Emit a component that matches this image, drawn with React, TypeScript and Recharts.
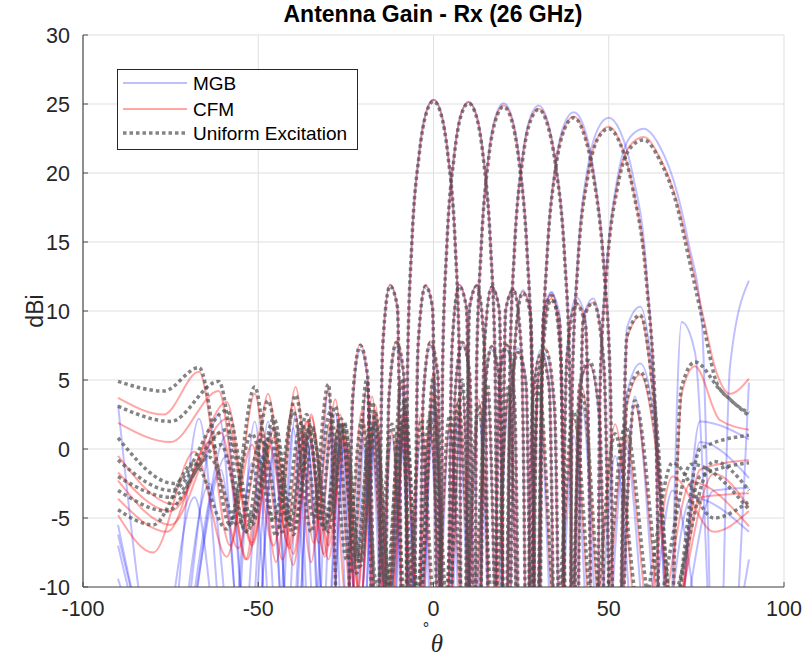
import React from 'react';
import { LineChart, Line, XAxis, YAxis, CartesianGrid } from 'recharts';

// angles (deg) and gains (dBi), one group per steering angle
// beam 0°
const th0 = [-90, -80, -68.2, -59, -51.8, -45.6, -40, -34.9, -30, -25.4, -23.1, -20.9, -18.8, -16.6, -14.5, -12.4, -10.3, -8.2, -7.4, -6.2, -4.1, -2.1, 0, 2.1, 4.1, 6.2, 7.4, 8.2, 10.3, 12.4, 14.5, 16.6, 18.8, 20.9, 23.1, 25.4, 30, 34.9, 40, 45.6, 51.8, 59, 68.2, 80, 90];
const uni0 = [-4.4, -5.5, -1.0, -5.8, 1.1, -5.2, 2.7, -6.0, 4.7, -30, 3.6, 7.5, 5.3, -30, 7.4, 11.8, 10.3, -30, 6.0, 14.8, 21.3, 24.3, 25.2, 24.3, 21.3, 14.8, 6.0, -30, 10.3, 11.8, 7.4, -30, 5.3, 7.5, 3.6, -30, 4.7, -12, 2.7, -12, 1.1, -12, -1.0, -5.0, -3.8];
const cfm0 = [-4.8, -7.5, -0.2, -7.8, 0.3, -7.0, 3.2, -8.2, 4.4, -30, 3.4, 7.6, 5.2, -30, 7.4, 11.9, 10.3, -30, 6.0, 14.8, 21.4, 24.4, 25.3, 24.4, 21.4, 14.8, 6.0, -30, 10.3, 11.9, 7.4, -30, 5.2, 7.6, 3.4, -30, 5.0, -14, 2.2, -14, 1.8, -14, -2.0, -6.0, -4.5];
const mgb0 = [-14, -18, -3.5, -18, -1.0, -18, 1.5, -18, 4.2, -30, 3.0, 7.2, 5.0, -30, 7.2, 11.9, 10.2, -30, 6.1, 14.9, 21.4, 24.4, 25.3, 24.4, 21.4, 14.9, 6.1, -30, 10.2, 11.9, 7.2, -30, 5.0, 7.2, 3.0, -30, 4.0, -18, 1.0, -18, -0.5, -18, -3.0, -18, -8];

// beam 10°
const th10 = [-90, -76, -63.9, -55.7, -49, -43.1, -37.7, -32.7, -28, -23.4, -19.05, -14.8, -12.7, -10.6, -8.5, -6.4, -4.4, -2.3, -0.3, 1.8, 2.6, 3.8, 5.9, 7.9, 10, 12.1, 14.2, 16.3, 17.6, 18.45, 20.6, 22.8, 25.1, 27.3, 29.7, 32.05, 34.5, 37, 42.35, 48.2, 54.7, 62.6, 73.6, 90];
const uni10 = [-3.0, -4.5, -0.6, -5.5, 0.7, -6.0, 1.9, -5.0, 3.1, -9, 5.0, -30, 3.8, 7.7, 5.5, -30, 7.5, 11.8, 10.3, -30, 5.9, 14.7, 21.2, 24.2, 25.05, 24.2, 21.1, 14.6, 5.7, -30, 10.1, 11.5, 7.1, -30, 5.0, 7.1, 3.2, -30, 4.1, -12, 1.7, -12, -1.1, -4.4];
const cfm10 = [-3.6, -6.0, 0.5, -7.2, 1.5, -8.0, 1.2, -6.8, 3.6, -11, 4.6, -30, 3.9, 7.8, 5.4, -30, 7.5, 11.9, 10.3, -30, 5.9, 14.7, 21.3, 24.3, 25.15, 24.3, 21.2, 14.6, 5.7, -30, 10.1, 11.6, 7.0, -30, 5.1, 7.3, 3.0, -30, 4.6, -14, 0.9, -14, -2.4, -5.6];
const mgb10 = [-12, -18, -2.5, -18, -0.5, -18, 1.0, -18, 2.6, -18, 4.6, -30, 3.5, 7.4, 5.2, -30, 7.3, 11.8, 10.2, -30, 6.0, 14.8, 21.3, 24.3, 25.15, 24.3, 21.3, 14.8, 6.0, -30, 10.0, 11.6, 7.0, -30, 4.6, 6.8, 2.8, -30, 3.2, -18, 0.3, -18, -3.5, -6.0];

// beam 20°
const th20 = [-90, -75, -60.7, -53.2, -46.8, -41.1, -35.9, -31, -26.3, -21.9, -17.5, -13.3, -9.1, -5, -2.9, -0.9, 1.2, 3.2, 5.3, 7.3, 9.4, 11.5, 12.3, 13.6, 15.7, 17.8, 20, 22.2, 24.4, 26.7, 28.1, 29, 31.4, 33.8, 36.3, 38.9, 41.6, 44.4, 47.3, 50.4, 57.4, 65.95, 80, 90];
const uni20 = [-2.0, -3.5, 0.3, -6.0, 0.8, -5.5, 1.4, -5.8, 2.2, -9, 3.4, -11, 5.1, -30, 3.9, 7.7, 5.5, -30, 7.5, 11.8, 10.2, -30, 5.8, 14.5, 21.0, 23.9, 24.8, 23.9, 20.8, 14.2, 5.4, -30, 9.7, 11.1, 6.7, -30, 4.4, 6.4, 2.5, -30, 3.5, -12, -0.9, -3.0];
const cfm20 = [-2.3, -5.5, 1.2, -8.0, 0.2, -7.2, 2.0, -7.8, 1.8, -11, 3.8, -13, 5.0, -30, 4.0, 7.8, 5.5, -30, 7.5, 11.9, 10.2, -30, 5.8, 14.6, 21.1, 24.0, 24.9, 24.0, 20.9, 14.3, 5.4, -30, 9.8, 11.2, 6.6, -30, 4.6, 6.1, 2.8, -30, 3.2, -14, -1.8, -4.2];
const mgb20 = [-9.4, -18, -1.5, -18, -1.0, -18, 0.3, -18, 1.5, -18, 2.8, -18, 4.6, -30, 3.6, 7.4, 5.3, -30, 7.4, 11.9, 10.3, -30, 6.0, 14.8, 21.3, 24.2, 25.05, 24.2, 21.2, 14.6, 5.6, -30, 9.9, 11.4, 6.8, -30, 4.0, 6.2, 2.0, -30, 3.8, -18, -3.0, -2.8];

// beam 30°
const th30 = [-90, -75, -59, -51.8, -45.6, -40, -34.85, -30, -25.4, -20.9, -16.6, -12.4, -8.2, -4.1, 0, 4.1, 6.15, 8.2, 10.3, 12.4, 14.5, 16.6, 18.75, 20.9, 21.8, 23.1, 25.4, 27.7, 30, 32.4, 34.85, 37.4, 38.9, 40, 42.7, 45.6, 48.6, 51.8, 55.2, 59, 63.2, 68.2, 76, 90];
const uni30 = [-0.8, -3.0, 1.4, -5.5, 1.5, -6.2, 1.5, -5.0, 1.9, -8.5, 2.6, -10, 3.6, -12, 5.3, -30, 4.0, 7.7, 5.5, -30, 7.4, 11.7, 10.1, -30, 5.7, 14.4, 20.9, 23.8, 24.6, 23.6, 20.5, 13.9, 5.1, -30, 9.3, 10.6, 6.1, -30, 3.6, 5.6, 1.3, -12, -2.0, -1.0];
const cfm30 = [-1.7, -4.5, 2.2, -7.0, 0.8, -8.4, 2.3, -7.0, 1.2, -11, 3.2, -13, 3.0, -14, 5.6, -30, 4.1, 7.8, 5.4, -30, 7.4, 11.8, 10.1, -30, 5.7, 14.5, 21.0, 23.9, 24.65, 23.7, 20.6, 14.0, 5.1, -30, 9.4, 10.6, 6.0, -30, 3.2, 5.4, 0.5, -14, -3.5, -3.2];
const mgb30 = [-7.0, -18, -0.5, -18, -0.5, -18, 0.5, -18, 0.8, -18, 2.0, -18, 3.0, -18, 5.0, -30, 3.8, 7.5, 5.4, -30, 7.3, 11.8, 10.2, -30, 5.9, 14.7, 21.2, 24.1, 24.9, 23.9, 20.8, 14.2, 5.3, -30, 9.5, 10.9, 6.3, -30, 4.0, 6.2, 1.5, -18, 0.5, -2.1];

// beam 40°
const th40 = [-90, -74, -59, -51.8, -45.6, -40, -34.85, -30, -25.4, -20.9, -16.6, -12.4, -8.2, -4.1, 0, 4.1, 8.2, 12.4, 14.5, 16.6, 18.75, 20.9, 23.1, 25.4, 27.7, 30, 30.95, 32.4, 34.85, 37.4, 40, 42.7, 45.6, 48.6, 50.5, 51.8, 55.2, 59, 63.2, 68.2, 76, 90];
const uni40 = [0.8, -2.5, 2.8, -5.0, 2.2, -5.8, 1.8, -6.0, 1.7, -8, 1.9, -10, 2.5, -12, 3.5, -12, 5.0, -30, 3.6, 7.4, 5.1, -30, 7.1, 11.3, 9.7, -30, 5.2, 13.9, 20.3, 23.2, 24.0, 23.0, 19.8, 13.1, 4.2, -30, 8.2, 9.7, 3.0, -12, 0.0, 1.0];
const cfm40 = [-0.5, -4.0, 3.4, -6.8, 1.4, -7.6, 2.5, -8.0, 1.0, -11, 2.6, -13, 1.8, -14, 4.0, -14, 4.6, -30, 3.7, 7.5, 5.1, -30, 7.1, 11.4, 9.8, -30, 5.2, 14.0, 20.4, 23.3, 24.1, 23.1, 19.9, 13.2, 4.3, -30, 8.0, 9.6, 2.5, -14, -1.5, -0.8];
const mgb40 = [-6.2, -18, 1.0, -18, 0.0, -18, 0.5, -18, 0.5, -18, 1.0, -18, 2.0, -18, 3.0, -18, 4.5, -30, 3.4, 7.2, 5.0, -30, 7.2, 11.5, 9.9, -30, 5.4, 14.2, 20.7, 23.6, 24.4, 23.5, 20.3, 13.6, 4.6, -30, 8.8, 10.3, 3.5, -18, 2.0, 0.7];

// beam 50°
const th50 = [-90, -75, -61.3, -53.6, -47.2, -41.5, -36.2, -31.3, -26.6, -22.1, -17.8, -13.5, -9.4, -5.2, -1.1, 3, 7.1, 11.2, 15.4, 19.7, 21.9, 24.1, 26.4, 28.7, 31.1, 33.5, 36, 38.5, 39.6, 41.2, 44, 46.9, 50, 53.3, 56.9, 60.8, 63.5, 65.4, 70.8, 74.6, 81.7, 90];
const uni50 = [3.1, 2.0, 4.9, -6.0, 3.5, -5.2, 2.5, -5.8, 1.9, -8, 1.7, -10, 1.8, -12, 2.4, -12, 3.3, -12, 4.7, -30, 3.3, 7.0, 4.7, -30, 6.6, 10.8, 9.2, -30, 4.6, 13.4, 19.7, 22.5, 23.2, 22.1, 18.8, 12.0, 1.0, -30, 4.5, 6.3, 4.3, 2.4];
const cfm50 = [1.9, 0.5, 4.2, -8.0, 4.0, -7.0, 2.0, -7.6, 2.5, -11, 1.2, -13, 2.3, -14, 2.0, -14, 3.7, -14, 4.4, -30, 3.3, 7.0, 4.6, -30, 6.7, 10.9, 9.3, -30, 4.6, 13.5, 19.8, 22.6, 23.35, 22.2, 18.9, 12.1, 1.0, -30, 4.0, 6.0, 2.1, 1.4];
const mgb50 = [-5.5, -18, 2.5, -18, 2.0, -18, 1.0, -18, 0.5, -18, 0.5, -18, 1.0, -18, 1.5, -18, 2.5, -18, 4.0, -30, 3.4, 7.3, 5.0, -30, 7.0, 11.3, 9.7, -30, 5.0, 14.0, 20.4, 23.2, 24.0, 23.0, 19.8, 12.8, 0.0, -30, 9.2, 7.0, -25, 4.8];

// beam 60°
const th60 = [-90, -77, -66.9, -58, -51, -44.9, -39.35, -34.2, -29.4, -24.8, -20.4, -16.1, -11.85, -7.7, -3.6, 0.5, 4.6, 8.7, 12.9, 17.1, 21.5, 25.9, 28.2, 30.6, 33, 35.5, 38, 40.7, 43.4, 46.3, 47.5, 49.4, 52.6, 56.1, 60, 64.4, 69.6, 72.7, 76.6, 80.8, 84.6, 90];
const uni60 = [4.9, 4.2, 5.9, -5.5, 4.5, -6.3, 3.9, -5.0, 2.7, -8, 2.1, -10, 1.8, -12, 1.9, -12, 2.4, -12, 3.2, -12, 4.6, -30, 3.1, 6.8, 4.5, -30, 6.3, 10.5, 8.9, -30, 4.1, 12.8, 19.1, 21.8, 22.4, 21.0, 17.5, 14.0, 9.5, 4.8, 3.6, 2.6];
const cfm60 = [3.7, 2.5, 5.6, -7.0, 4.0, -8.2, 4.5, -6.8, 2.0, -11, 2.8, -13, 1.2, -14, 2.5, -14, 1.8, -14, 3.6, -14, 4.3, -30, 3.1, 6.9, 4.5, -30, 6.4, 10.6, 9.0, -30, 4.2, 12.9, 19.3, 22.0, 22.6, 21.2, 17.8, 14.5, 10.0, 5.5, 4.0, 5.1];
const mgb60 = [3.2, -18, 2.2, -18, 2.0, -18, 2.5, -18, 1.5, -18, 1.0, -18, 0.8, -18, 1.0, -18, 1.5, -18, 2.5, -18, 4.0, -30, 3.3, 7.2, 4.8, -30, 6.8, 11.0, 9.4, -30, 4.6, 13.3, 19.8, 22.6, 23.2, 22.0, 18.5, 15.0, 9.0, -25, 6.0, 12.2];

const xTicks = [-100, -50, 0, 50, 100];
const yTicks = [-10, -5, 0, 5, 10, 15, 20, 25, 30];

const beams = [
  { key: 'b0', th: th0, uni: uni0, cfm: cfm0, mgb: mgb0 },
  { key: 'b10', th: th10, uni: uni10, cfm: cfm10, mgb: mgb10 },
  { key: 'b20', th: th20, uni: uni20, cfm: cfm20, mgb: mgb20 },
  { key: 'b30', th: th30, uni: uni30, cfm: cfm30, mgb: mgb30 },
  { key: 'b40', th: th40, uni: uni40, cfm: cfm40, mgb: mgb40 },
  { key: 'b50', th: th50, uni: uni50, cfm: cfm50, mgb: mgb50 },
  { key: 'b60', th: th60, uni: uni60, cfm: cfm60, mgb: mgb60 },
];

const pts = (th: number[], v: number[]) => th.map((t, i) => ({ t, v: v[i] }));

const FONT = '"Liberation Sans", Arial, Helvetica, sans-serif';
const INK = '#262626';

const MGB_STYLE = { stroke: '#0000ff', strokeOpacity: 0.25, strokeWidth: 2 };
const CFM_STYLE = { stroke: '#ff0000', strokeOpacity: 0.35, strokeWidth: 2 };
const UNI_STYLE = { stroke: '#505050', strokeOpacity: 0.7, strokeWidth: 3.5, strokeDasharray: '3.5 3' };

const App: React.FC = () => {
  return (
    <div style={{ position: 'absolute', left: 0, top: 0, width: 805, height: 660, background: '#fff', fontFamily: FONT }}>
      <LineChart width={805} height={660} margin={{ top: 35, right: 21, bottom: 0, left: 0 }}>
        <CartesianGrid stroke="#dfdfdf" strokeWidth={1} />
        <XAxis
          type="number"
          dataKey="t"
          domain={[-100, 100]}
          ticks={xTicks}
          height={73}
          tickSize={-5}
          tickMargin={19}
          axisLine={{ stroke: '#4d4d4d', strokeWidth: 1.2 }}
          tickLine={{ stroke: '#4d4d4d' }}
          tick={{ fill: INK, fontSize: 21.5, fontFamily: FONT }}
          allowDataOverflow
        />
        <YAxis
          type="number"
          domain={[-10, 30]}
          ticks={yTicks}
          width={83}
          tickSize={-5}
          tickMargin={18}
          axisLine={{ stroke: '#4d4d4d', strokeWidth: 1.2 }}
          tickLine={{ stroke: '#4d4d4d' }}
          tick={{ fill: INK, fontSize: 21.5, fontFamily: FONT }}
          allowDataOverflow
        />
        {beams.map((b) => (
          <Line key={'mgb' + b.key} data={pts(b.th, b.mgb)} dataKey="v" type="monotone" {...MGB_STYLE}
            dot={false} activeDot={false} isAnimationActive={false} />
        ))}
        {beams.map((b) => (
          <Line key={'cfm' + b.key} data={pts(b.th, b.cfm)} dataKey="v" type="monotone" {...CFM_STYLE}
            dot={false} activeDot={false} isAnimationActive={false} />
        ))}
        {beams.map((b) => (
          <Line key={'uni' + b.key} data={pts(b.th, b.uni)} dataKey="v" type="monotone" {...UNI_STYLE}
            dot={false} activeDot={false} isAnimationActive={false} />
        ))}
      </LineChart>

      <svg width={805} height={660} style={{ position: 'absolute', left: 0, top: 0, pointerEvents: 'none' }}>
        <text x={433} y={22} textAnchor="middle" fontWeight="bold" fontSize={23} fontFamily={FONT} fill="#000">
          Antenna Gain - Rx (26 GHz)
        </text>
        <text transform="translate(43,311) rotate(-90)" textAnchor="middle" fontSize={23} fontFamily={FONT} fill={INK}>
          dBi
        </text>
        <text x={426} y={634} textAnchor="middle" fontSize={16} fontFamily={FONT} fill={INK}>°</text>
        <text x={437} y={652} textAnchor="middle" fontSize={25} fontStyle="italic" fontFamily='"Liberation Serif", "DejaVu Serif", serif' fill={INK}>θ</text>

        <g transform="translate(117,69)">
          <rect x={0.5} y={0.5} width={240} height={80} fill="#fff" stroke={INK} strokeWidth={1} />
          <line x1={6} x2={70} y1={14} y2={14} {...MGB_STYLE} />
          <line x1={6} x2={70} y1={40} y2={40} {...CFM_STYLE} />
          <line x1={6} x2={70} y1={64} y2={64} {...UNI_STYLE} />
          <text x={76} y={14} dy="0.36em" fontSize={19} fontFamily={FONT} fill="#000">MGB</text>
          <text x={76} y={40} dy="0.36em" fontSize={19} fontFamily={FONT} fill="#000">CFM</text>
          <text x={76} y={64} dy="0.36em" fontSize={19} fontFamily={FONT} fill="#000">Uniform Excitation</text>
        </g>
      </svg>
    </div>
  );
};

export default App;
